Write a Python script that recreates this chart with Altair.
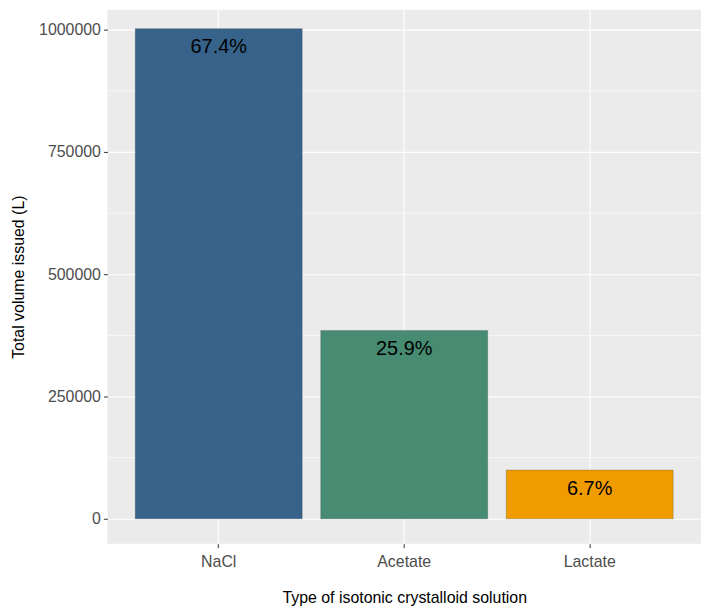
import altair as alt
import pandas as pd

categories = ["NaCl", "Acetate", "Lactate"]
volumes = [1002000, 385000, 99500]
pct_labels = ["67.4%", "25.9%", "6.7%"]
bar_colors = ["#37628A", "#468B72", "#F09C00"]
major_ticks = [0, 250000, 500000, 750000, 1000000]
minor_breaks = [125000, 375000, 625000, 875000]

df = pd.DataFrame({"solution": categories, "volume": volumes, "label": pct_labels})
df_minor = pd.DataFrame({"volume": minor_breaks})

FONT = "Liberation Sans"
yscale = alt.Scale(domain=[-50800, 1040650], nice=False, zero=False)
yaxis = alt.Axis(
    title="Total volume issued (L)",
    values=major_ticks,
    format="d",
    titlePadding=12,
    labelPadding=3,
)
xaxis = alt.Axis(
    title="Type of isotonic crystalloid solution",
    labelAngle=0,
    grid=True,
    bandPosition=0.5,
    titlePadding=20,
    labelPadding=6,
)
xscale = alt.Scale(paddingInner=0.1, paddingOuter=0.15)

minor = alt.Chart(df_minor).mark_rule(color="white", strokeWidth=0.6).encode(
    y=alt.Y("volume:Q", scale=yscale, axis=yaxis)
)

bars = alt.Chart(df).mark_bar(stroke="#2b3a3a", strokeWidth=0.5, strokeOpacity=0.5).encode(
    x=alt.X("solution:N", sort=categories, scale=xscale, axis=xaxis),
    y=alt.Y("volume:Q", scale=yscale, axis=yaxis),
    y2=alt.datum(0),
    color=alt.Color("solution:N", scale=alt.Scale(domain=categories, range=bar_colors), legend=None),
)

text = alt.Chart(df).mark_text(baseline="middle", dy=19, fontSize=20, font=FONT, color="black").encode(
    x=alt.X("solution:N", sort=categories, scale=xscale, axis=xaxis),
    y=alt.Y("volume:Q", scale=yscale, axis=yaxis),
    text="label:N",
)

chart = (
    alt.layer(minor, bars, text)
    .properties(
        width=597,
        height=537,
        autosize=alt.AutoSizeParams(type="none"),
        padding={"left": 100, "top": 0, "right": 0, "bottom": 66},
        background="white",
    )
    .configure_view(fill="#EBEBEB", stroke=None)
    .configure_axis(
        grid=True,
        gridColor="white",
        gridWidth=1.1,
        domain=False,
        tickColor="#333333",
        tickSize=4,
        labelColor="#4D4D4D",
        labelFont=FONT,
        labelFontSize=16,
        titleFont=FONT,
        titleFontSize=16,
        titleFontWeight="normal",
        titleColor="black",
    )
)

chart.save("out.html", embed_options={"renderer": "svg", "actions": False})
